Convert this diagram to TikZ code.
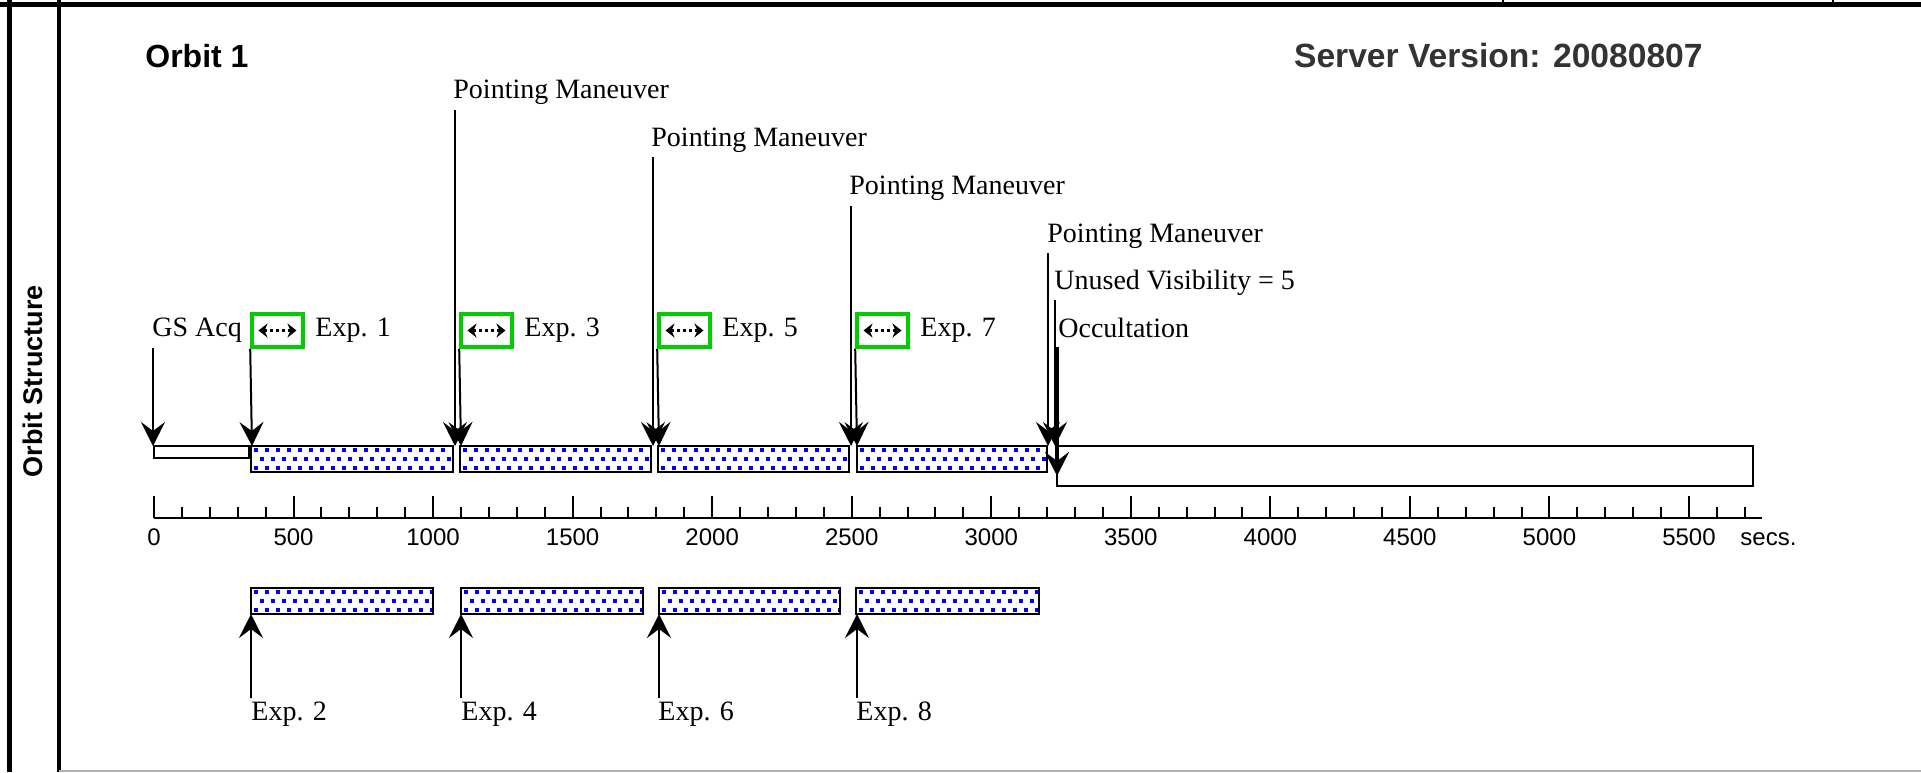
\documentclass[tikz,border=0pt]{standalone}
\usepackage{fontspec}
\setmainfont{Liberation Serif}
\setsansfont{Liberation Sans}
\usetikzlibrary{arrows.meta,calc}
\definecolor{dotblue}{RGB}{0,0,255}
\definecolor{boxgreen}{RGB}{0,204,0}
\definecolor{srvgray}{RGB}{51,51,51}
\newcommand\dotbar[4]{%
  \fill[white] (#1,#2) rectangle (#3,#4);
  \begin{scope}
    \clip (#1,#2) rectangle (#3,#4);
    \pgfmathtruncatemacro\nn{(#3-#1)/11+1}
    \foreach \k in {0,...,\nn}{
      \fill[dotblue] (#1+3+11*\k,#2+2) rectangle ++(4.2,4.2);
      \fill[dotblue] (#1+8.5+11*\k,#2+11) rectangle ++(4.2,4.2);
      \fill[dotblue] (#1+3+11*\k,#2+20) rectangle ++(4.2,4.2);
    }
  \end{scope}
  \draw[barline] (#1,#2) rectangle (#3,#4);
}
\begin{document}
\begin{tikzpicture}[x=0.5pt,y=-0.5pt,
  lbl/.style={font=\fontsize{14}{16}\selectfont, inner sep=0pt, anchor=base west},
  ticklbl/.style={font=\sffamily\fontsize{12}{14}\selectfont, inner sep=0pt, anchor=base},
  arr/.style={line width=1pt, -{Stealth[length=12pt,width=12pt,inset=4.5pt]}},
  barline/.style={line width=1pt, draw=black},
  gbox/.style={draw=boxgreen, line width=1.8pt, minimum width=25.5pt, minimum height=16.5pt, inner sep=0pt},
  dblarr/.style={line width=1.4pt, dash pattern=on 1.5pt off 1.5pt,
     {Stealth[length=4.5pt,width=7pt]}-{Stealth[length=4.5pt,width=7pt]}},
  frame/.style={line width=2.5pt, draw=black}]
\useasboundingbox (0,0) rectangle (1921,772);
\fill[white] (0,0) rectangle (1921,772);
% frame
\draw[line width=1pt] (1503,0) -- (1503,5);
\draw[line width=1pt] (1833,0) -- (1833,5);
\draw[frame] (0,4.5) -- (1921,4.5);
\draw[frame] (9.5,0) -- (9.5,772);
\draw[line width=2pt] (59,0) -- (59,772);
\draw[line width=0.8pt, draw=black!30] (59,771) -- (1921,771);
% titles
\node[rotate=90, inner sep=0pt, font=\sffamily\bfseries\fontsize{13.5}{15}\selectfont] (os) at (33,381) {Orbit Structure};
\node[inner sep=0pt, anchor=base west, font=\sffamily\bfseries\fontsize{16}{18}\selectfont] (orb) at (145,67) {Orbit 1};
\node[inner sep=0pt, anchor=base east, text=srvgray, font=\sffamily\bfseries\fontsize{16.8}{18}\selectfont] (srv) at (1703,67) {Server Version: 20080807};
% axis
\draw[line width=1pt] (154,518) -- (1762,518);
\foreach \s in {0,100,...,5700}{
  \pgfmathsetmacro\xx{154+0.27909*\s}
  \pgfmathtruncatemacro\m{mod(\s,500)}
  \ifnum\m=0
    \draw[line width=1pt] (\xx,518) -- (\xx,496);
    \node[ticklbl] at (\xx,545) {\s};
  \else
    \draw[line width=1pt] (\xx,518) -- (\xx,507);
  \fi
}
\node[ticklbl, anchor=base west] (secs) at (1740,545) {secs.};
% top row bars
\draw[barline, fill=white] (154,446) rectangle (249,458);
\dotbar{251}{446}{453}{472}
\dotbar{460}{446}{651}{472}
\dotbar{658}{446}{849}{472}
\dotbar{857}{446}{1047}{472}
\draw[barline, fill=white] (1057,446) rectangle (1753,486);
% bottom row bars
\dotbar{251}{588}{433}{614}
\dotbar{461}{588}{643}{614}
\dotbar{659}{588}{840}{614}
\dotbar{856}{588}{1039}{614}
% labels
\node[lbl] (gs) at (152,336) {GS Acq};
\node[gbox] (g1) at (277.5,330.5) {};
\node[gbox] (g3) at (486.5,330.5) {};
\node[gbox] (g5) at (684.5,330.5) {};
\node[gbox] (g7) at (882.5,330.5) {};
\foreach \g in {g1,g3,g5,g7}{
  \draw[dblarr] ($(\g.center)+(-19,0)$) -- ($(\g.center)+(19,0)$);
}
\node[lbl] (e1) at (315,336) {Exp. 1};
\node[lbl] (e3) at (524,336) {Exp. 3};
\node[lbl] (e5) at (722,336) {Exp. 5};
\node[lbl] (e7) at (920,336) {Exp. 7};
\node[lbl] (pm1) at (453,98) {Pointing Maneuver};
\node[lbl] (pm2) at (651,146) {Pointing Maneuver};
\node[lbl] (pm3) at (849,194) {Pointing Maneuver};
\node[lbl] (pm4) at (1047,242) {Pointing Maneuver};
\node[lbl] (uv) at (1054,289) {Unused Visibility = 5};
\node[lbl] (occ) at (1058,337) {Occultation};
\node[lbl] (e2) at (251,720) {Exp. 2};
\node[lbl] (e4) at (461,720) {Exp. 4};
\node[lbl] (e6) at (658,720) {Exp. 6};
\node[lbl] (e8) at (856,720) {Exp. 8};
% coordinates
\coordinate (gss) at (153,348);   \coordinate (gse) at (153,446);
\coordinate (e1e) at (252,446);
\coordinate (pm1s) at (455,110);  \coordinate (pm1e) at (455,446);
\coordinate (e3e) at (461,446);
\coordinate (pm2s) at (653,157);  \coordinate (pm2e) at (653,446);
\coordinate (e5e) at (659,446);
\coordinate (pm3s) at (851,206);  \coordinate (pm3e) at (851,446);
\coordinate (e7e) at (857,446);
\coordinate (pm4s) at (1048,253); \coordinate (pm4e) at (1048,446);
\coordinate (uvs) at (1055,300);  \coordinate (uve) at (1055,446);
\coordinate (occs) at (1057,347); \coordinate (occe) at (1057,476);
\coordinate (e2s) at (251,698);   \coordinate (e2e) at (251,614);
\coordinate (e4s) at (461,698);   \coordinate (e4e) at (461,614);
\coordinate (e6s) at (659,698);   \coordinate (e6e) at (659,614);
\coordinate (e8s) at (857,698);   \coordinate (e8e) at (857,614);
% arrows
\draw[arr] (gss) -- (gse);
\draw[arr] (g1.south west) -- (e1e);
\draw[arr] (pm1s) -- (pm1e);
\draw[arr] (g3.south west) -- (e3e);
\draw[arr] (pm2s) -- (pm2e);
\draw[arr] (g5.south west) -- (e5e);
\draw[arr] (pm3s) -- (pm3e);
\draw[arr] (g7.south west) -- (e7e);
\draw[arr] (pm4s) -- (pm4e);
\draw[arr] (uvs) -- (uve);
\draw[arr, line width=2pt] (occs) -- (occe);
\draw[arr] (e2s) -- (e2e);
\draw[arr] (e4s) -- (e4e);
\draw[arr] (e6s) -- (e6e);
\draw[arr] (e8s) -- (e8e);
\end{tikzpicture}
\end{document}
